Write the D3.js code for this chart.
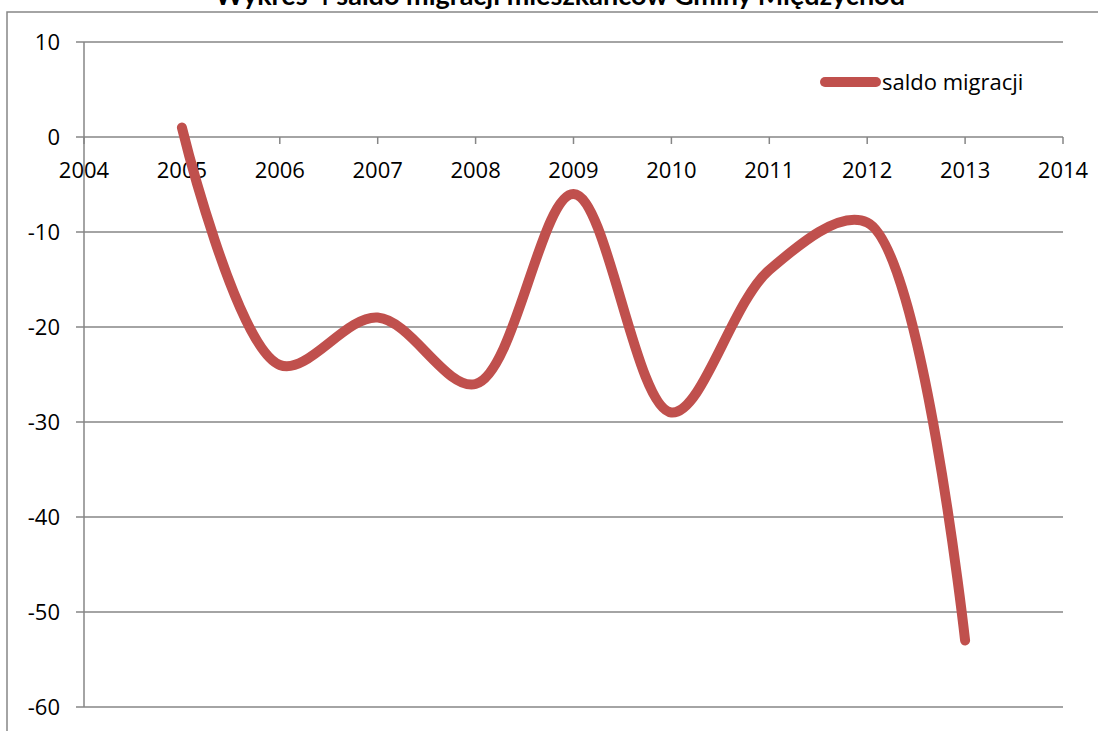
<!DOCTYPE html>
<html lang="pl">
<head>
<meta charset="utf-8">
<script src="https://d3js.org/d3.v7.min.js"></script>
<style>
  body { margin: 0; background: #fff; }
  svg { display: block; font-family: "Open Sans", Lato, sans-serif; }
</style>
</head>
<body>
<svg width="1098" height="731"></svg>
<script>
// data
var years = [2005, 2006, 2007, 2008, 2009, 2010, 2011, 2012, 2013];
var saldo = [1, -24, -19, -26, -6, -29, -14, -9, -53];
var xTicks = [2004, 2005, 2006, 2007, 2008, 2009, 2010, 2011, 2012, 2013, 2014];
var yTicks = [10, 0, -10, -20, -30, -40, -50, -60];
var title = "Wykres 4 saldo migracji mieszkańców Gminy Międzychód";
var seriesName = "saldo migracji";

var svg = d3.select("svg");
var grey = "#868686", red = "#c0504d";

// outer chart frame (runs off the right and bottom of the picture)
svg.append("rect")
   .attr("x", 7).attr("y", 12)
   .attr("width", 1200).attr("height", 900)
   .attr("fill", "none").attr("stroke", grey).attr("stroke-width", 1.5);

// title sits mostly above the top edge, as in the original
svg.append("text")
   .attr("x", 560).attr("y", 5)
   .attr("text-anchor", "middle")
   .attr("font-family", "Lato, sans-serif")
   .attr("font-size", "27px").attr("font-weight", "bold")
   .text(title);

var x = d3.scaleLinear().domain([2004, 2014]).range([84, 1063]);
var y = d3.scaleLinear().domain([-60, 10]).range([707, 42]);

// horizontal gridlines + y tick marks
svg.append("g").selectAll("line")
   .data(yTicks).enter().append("line")
   .attr("x1", 76).attr("x2", x(2014))
   .attr("y1", function(d) { return y(d); })
   .attr("y2", function(d) { return y(d); })
   .attr("stroke", grey).attr("stroke-width", 1.5);

// y axis line
svg.append("line")
   .attr("x1", x(2004)).attr("x2", x(2004))
   .attr("y1", y(10)).attr("y2", y(-60))
   .attr("stroke", grey).attr("stroke-width", 1.5);

svg.append("g").selectAll("text")
   .data(yTicks).enter().append("text")
   .attr("x", 60)
   .attr("y", function(d) { return y(d) + 8; })
   .attr("text-anchor", "end")
   .attr("font-size", "22px")
   .text(function(d) { return d; });

// x axis at zero, ticks downward
svg.append("g").selectAll("line")
   .data(xTicks).enter().append("line")
   .attr("x1", function(d) { return x(d); })
   .attr("x2", function(d) { return x(d); })
   .attr("y1", y(0)).attr("y2", y(0) + 7)
   .attr("stroke", grey).attr("stroke-width", 1.5);

svg.append("g").selectAll("text")
   .data(xTicks).enter().append("text")
   .attr("x", function(d) { return x(d); })
   .attr("y", y(0) + 41)
   .attr("text-anchor", "middle")
   .attr("font-size", "22px")
   .text(function(d) { return d; });

// smoothed series line
var line = d3.line()
   .x(function(d, i) { return x(years[i]); })
   .y(function(d) { return y(d); })
   .curve(d3.curveCatmullRom.alpha(0.5));

svg.append("path")
   .datum(saldo)
   .attr("d", line)
   .attr("fill", "none")
   .attr("stroke", red).attr("stroke-width", 10)
   .attr("stroke-linecap", "round").attr("stroke-linejoin", "round");

// legend
svg.append("line")
   .attr("x1", 825).attr("x2", 876)
   .attr("y1", 82).attr("y2", 82)
   .attr("stroke", red).attr("stroke-width", 10)
   .attr("stroke-linecap", "round");
svg.append("text")
   .attr("x", 882).attr("y", 90)
   .attr("font-size", "22px")
   .text(seriesName);
</script>
</body>
</html>
